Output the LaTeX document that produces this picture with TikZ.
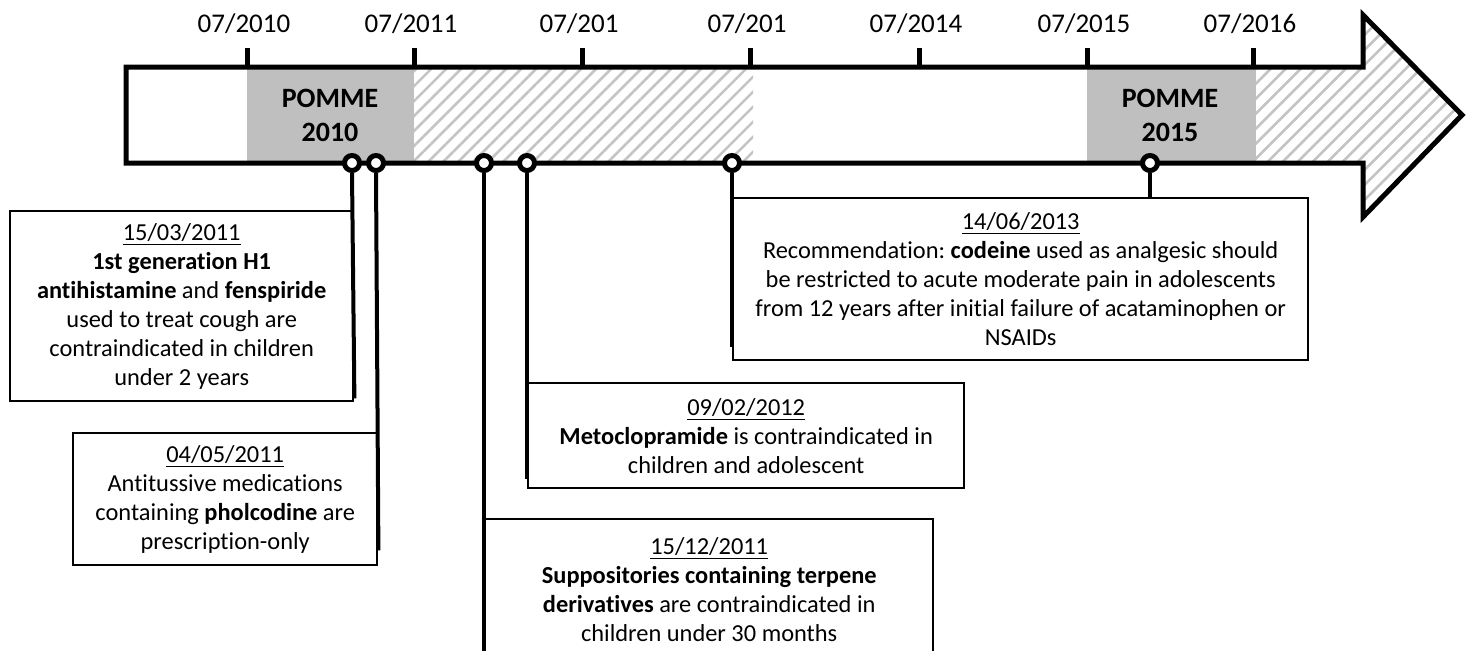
\documentclass[tikz,border=0pt]{standalone}
\usepackage{fontspec}
\setmainfont{Carlito}[Ligatures=NoCommon]
\frenchspacing
\usetikzlibrary{patterns.meta}
\definecolor{pommegray}{RGB}{191,191,191}
\definecolor{hatchgray}{RGB}{196,196,196}

\begin{document}
\begin{tikzpicture}[x=0.5pt,y=-0.5pt,line join=miter,
	every node/.style={font=\fontsize{13.5}{16.5}\selectfont},
	box/.style={draw,line width=1.2pt,anchor=north west,align=center,inner sep=0pt,font=\fontsize{12.2}{14.5}\selectfont},
	marker/.style={circle,draw,line width=2.5pt,fill=white,inner sep=0pt,minimum size=7.5pt},
	stem/.style={line width=2pt},
	hatch/.style={pattern={Lines[angle=45,distance=5.3pt,line width=1.3pt]},pattern color=hatchgray},
	pomme/.style={align=center,font=\fontsize{14}{17}\selectfont\bfseries}]

	\useasboundingbox (0,0) rectangle (1473,650);
	\clip (0,0) rectangle (1473,650);

	% periods
	\fill[pommegray] (247,67) rectangle (414,163);
	\fill[pommegray] (1087,67) rectangle (1256,163);
	\fill[hatch] (414,67) rectangle (753,163);
	\fill[hatch] (1256,67) -- (1363,67) -- (1363,15) -- (1462,115) -- (1363,217) -- (1363,163) -- (1256,163) -- cycle;

	% time arrow
	\draw[line width=2.5pt] (126,67) -- (1363,67) -- (1363,15) -- (1462,115) -- (1363,217) -- (1363,163) -- (126,163) -- cycle;

	\foreach \x/\t [count=\i] in {247/{07/2010},414/{07/2011},582/{07/201},750/{07/201},919/{07/2014},1087/{07/2015},1253/{07/2016}}{
		\draw[line width=2.5pt] (\x,48) -- (\x,67);
		\node (y\i) at (\x-3,24) {\t};
	}

	\node[pomme] (p1) at (330,115) {POMME\\2010};
	\node[pomme] (p2) at (1170,115) {POMME\\2015};

	% events
	\node[box,minimum width=171.5pt,minimum height=95pt] (b1) at (9,210)
		{\underline{15/03/2011}\\ \textbf{1st generation H1}\\ \textbf{antihistamine} and \textbf{fenspiride}\\ used to treat cough are\\ contraindicated in children\\ under 2 years};
	\node[box,minimum width=152pt,minimum height=66pt] (b2) at (72,432)
		{\underline{04/05/2011}\\ Antitussive medications\\ containing \textbf{pholcodine} are\\ prescription-only};
	\node[box,minimum width=218pt,minimum height=52.5pt] (b3) at (527,382)
		{\underline{09/02/2012}\\ \textbf{Metoclopramide} is contraindicated in\\ children and adolescent};
	\node[box,minimum width=224pt,minimum height=70pt] (b4) at (484,518)
		{\underline{15/12/2011}\\ \textbf{Suppositories containing terpene}\\ \textbf{derivatives} are contraindicated in\\ children under 30 months};
	\node[box,minimum width=287.5pt,minimum height=81pt] (b5) at (732,197)
		{\underline{14/06/2013}\\ Recommendation: \textbf{codeine} used as analgesic should\\ be restricted to acute moderate pain in adolescents\\ from 12 years after initial failure of acataminophen or\\ NSAIDs};

	\node[marker] (m1) at (352,163) {};
	\node[marker] (m2) at (376,163) {};
	\node[marker] (m3) at (484,163) {};
	\node[marker] (m4) at (527,163) {};
	\node[marker] (m5) at (732,163) {};
	\node[marker] (m6) at (1150,163) {};

	\draw[stem] (m1.south) -- ([yshift=2pt]b1.south east);
	\draw[stem] (m2.south) -- ([yshift=8pt]b2.south east);
	\draw[stem] (m3.south) -- (b4.south west);
	\draw[stem] (m4.south) -- ([yshift=5pt]b3.south west);
	\draw[stem] (m5.south) -- ([yshift=7pt]b5.south west);
	\draw[stem] (m6.south) -- (m6 |- b5.north);
\end{tikzpicture}
\end{document}
